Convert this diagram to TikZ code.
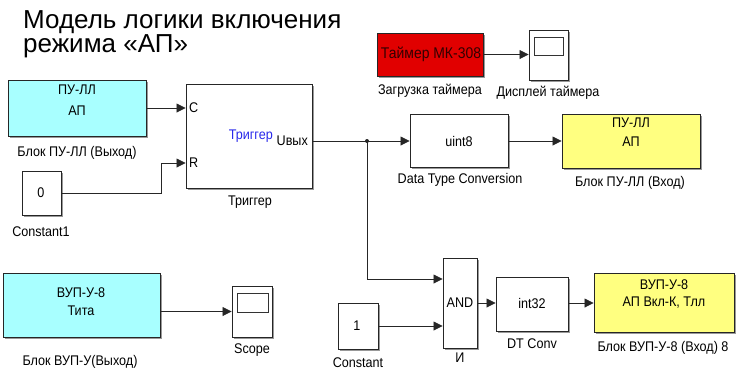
\documentclass[tikz,border=0pt]{standalone}
\usepackage{fontspec}
\setmainfont{Liberation Sans}
\newfontfamily\blkfont[FakeStretch=0.9]{Liberation Sans}
\usetikzlibrary{arrows.meta,shadows}
\definecolor{cyanblk}{RGB}{168,255,255}
\definecolor{yelblk}{RGB}{255,255,128}
\definecolor{redblk}{RGB}{225,0,0}
\definecolor{bluetxt}{RGB}{40,40,235}
\begin{document}
\begin{tikzpicture}[x=1pt,y=-1pt,
  blk/.style={draw=black!85, line width=0.9pt, fill=white, inner sep=0pt,
    drop shadow={shadow xshift=1.5pt,shadow yshift=-1.5pt,fill=black!40,opacity=1}},
  txt/.style={inner sep=0pt, font=\blkfont\fontsize{14}{16}\selectfont},
  lbl/.style={inner sep=0pt, font=\blkfont\fontsize{14}{16}\selectfont},
  wire/.style={draw=black!85, line width=0.8pt},
  arr/.style={wire, -{Triangle[length=9pt,width=9pt]}},
  screen/.style={draw=black!80, line width=0.7pt, fill=white}
]
\useasboundingbox (0,0) rectangle (750,376);

% title
\node[anchor=base west, inner sep=0pt, font=\fontsize{26}{26}\selectfont] (t1) at (23,28) {Модель логики включения};
\node[anchor=base west, inner sep=0pt, font=\fontsize{26}{26}\selectfont] (t2) at (23,52) {режима «АП»};

% blocks
\node[blk, fill=cyanblk, minimum width=138pt, minimum height=56pt] (pullout) at (77,108) {};
\node[blk, minimum width=126pt, minimum height=104pt] (trig) at (249,136) {};
\node[blk, minimum width=39pt, minimum height=44pt] (const1) at (41.5,193) {};
\node[blk, fill=redblk, minimum width=106pt, minimum height=43pt] (timer) at (430,54.5) {};
\node[blk, minimum width=39pt, minimum height=50pt] (disp) at (548.5,55) {};
\node[blk, minimum width=98pt, minimum height=53pt] (conv) at (459,140.5) {};
\node[blk, fill=yelblk, minimum width=138pt, minimum height=54pt] (pullin) at (631,141) {};
\node[blk, fill=cyanblk, minimum width=157pt, minimum height=64pt] (vupout) at (81.5,305) {};
\node[blk, minimum width=40pt, minimum height=51pt] (scope) at (252,311.5) {};
\node[blk, minimum width=40pt, minimum height=46pt] (const) at (358,326) {};
\node[blk, minimum width=34pt, minimum height=90pt] (and) at (460,303) {};
\node[blk, minimum width=72pt, minimum height=54pt] (dtconv) at (532,304) {};
\node[blk, fill=yelblk, minimum width=140pt, minimum height=59pt] (vupin) at (664,302.5) {};

% scope screens
\draw[screen] (534,37) rectangle (563,55);
\draw[screen] (237,293) rectangle (268,312);

% inner texts
\node[txt] (pulloutA) at (77,90) {ПУ-ЛЛ};
\node[txt] (pulloutB) at (77,111) {АП};
\node[txt] (pullinA) at (631,123) {ПУ-ЛЛ};
\node[txt] (pullinB) at (631,142) {АП};
\node[txt] (vupoutA) at (81,293) {ВУП-У-8};
\node[txt] (vupoutB) at (81,311) {Тита};
\node[txt] (vupinA) at (664,285) {ВУП-У-8};
\node[txt] (vupinB) at (664,303) {АП Вкл-К, Тлл};
\node[txt, font=\blkfont\fontsize{15.5}{17}\selectfont, text=black!80!red] (timerT) at (431,54) {Таймер МК-308};
\node[txt] (c1T) at (41,193) {0};
\node[txt] (cT) at (357,326) {1};
\node[txt] (convT) at (459,141) {uint8};
\node[txt] (dtT) at (532,303) {int32};
\node[txt] (andT) at (460,303) {AND};
\node[txt, anchor=west] (portC) at (189,108) {C};
\node[txt, anchor=west] (portR) at (189,163) {R};
\node[txt, anchor=east, text=bluetxt] (trigT) at (273,136) {Триггер};
\node[txt, anchor=east] (portU) at (308,141) {Uвых};

% labels
\node[lbl] (l1) at (77,153) {Блок ПУ-ЛЛ (Выход)};
\node[lbl] (l2) at (41,232) {Constant1};
\node[lbl] (l3) at (250,202) {Триггер};
\node[lbl] (l4) at (430,91) {Загрузка таймера};
\node[lbl] (l5) at (548,93) {Дисплей таймера};
\node[lbl] (l6) at (460,180) {Data Type Conversion};
\node[lbl] (l7) at (630,183) {Блок ПУ-ЛЛ (Вход)};
\node[lbl] (l8) at (80,362) {Блок ВУП-У(Выход)};
\node[lbl] (l9) at (252,350) {Scope};
\node[lbl] (l10) at (358,363) {Constant};
\node[lbl] (l11) at (460,358) {И};
\node[lbl] (l12) at (532,344) {DT Conv};
\node[lbl] (l13) at (663,348) {Блок ВУП-У-8 (Вход) 8};

% ports / bends
\coordinate (cport) at (trig.west |- 0,108);
\coordinate (rport) at (trig.west |- 0,163);
\coordinate (rbend) at (161,163);
\coordinate (uout) at (trig.east |- 0,141);
\coordinate (junc) at (367,141);
\coordinate (andin1) at (and.west |- 0,279);
\coordinate (andin2) at (and.west |- const.east);

% connectors
\draw[arr] (pullout.east |- cport) -- (cport);
\draw[arr] (const1.east) -| (rbend) -- (rport);
\draw[wire] (uout) -- (junc);
\fill[black!85] (junc) circle (2pt);
\draw[arr] (junc) -- (conv.west |- junc);
\draw[arr] (conv.east |- junc) -- (pullin.west |- junc);
\draw[arr] (junc) |- (andin1);
\draw[arr] (const.east) -- (andin2);
\draw[arr] (and.east) -- (dtconv.west |- and.east);
\draw[arr] (dtconv.east |- and.east) -- (vupin.west |- and.east);
\draw[arr] (vupout.east |- scope.west) -- (scope.west);
\draw[arr] (timer.east) -- (disp.west |- timer.east);
\end{tikzpicture}
\end{document}
